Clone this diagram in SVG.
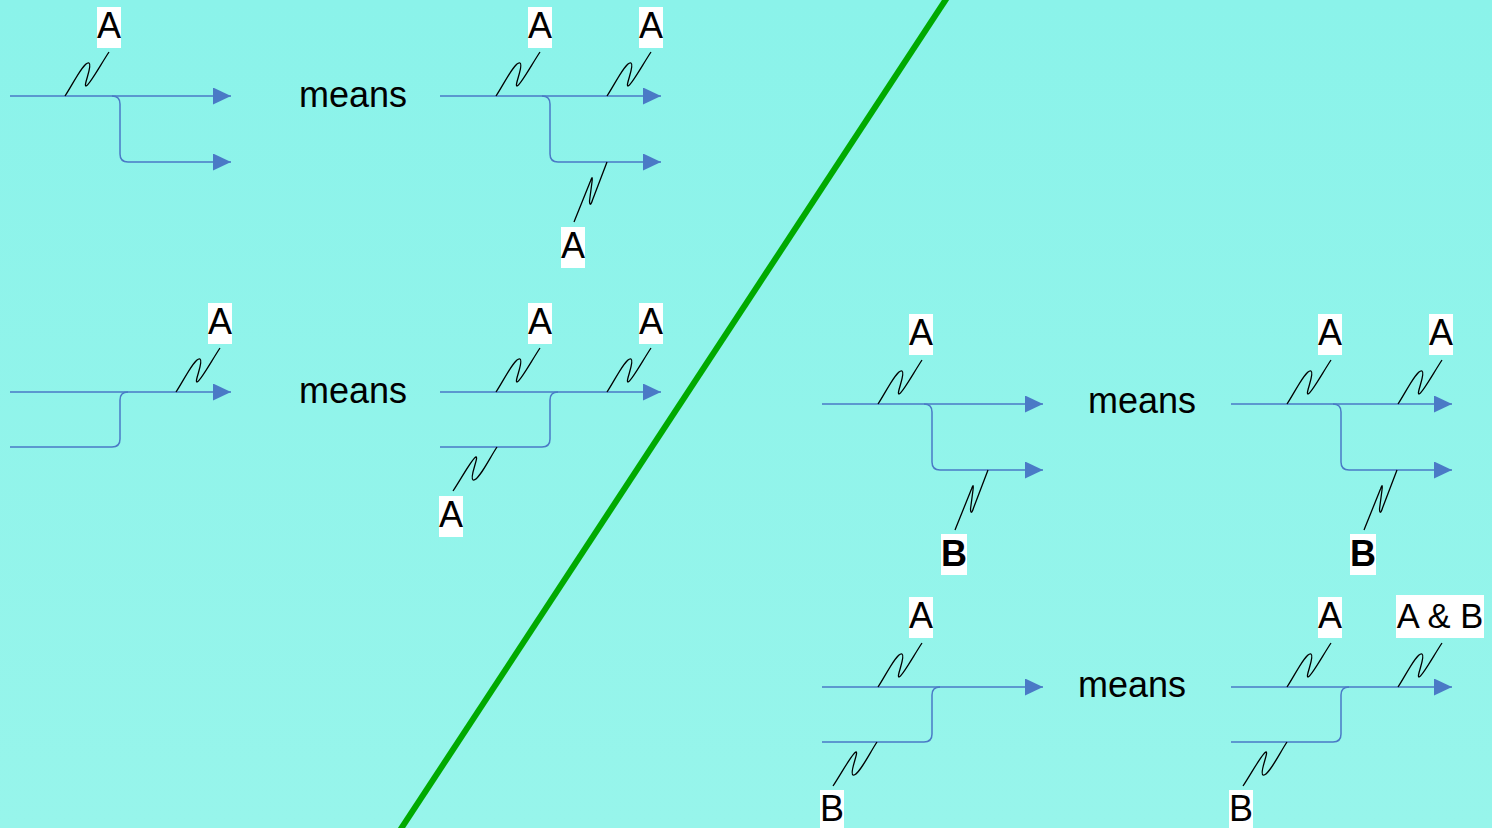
<svg xmlns="http://www.w3.org/2000/svg" width="1492" height="828" viewBox="0 0 1492 828">
<defs>
<linearGradient id="bg" x1="0" y1="0" x2="0" y2="1">
<stop offset="0" stop-color="#8BF3EA"/>
<stop offset="1" stop-color="#97F5EB"/>
</linearGradient>
<marker id="arr" markerUnits="userSpaceOnUse" markerWidth="18" markerHeight="17" refX="18" refY="8.5" orient="auto">
<path d="M0,0 L18,8.5 L0,17 z" fill="#4A7AC6"/>
</marker>
<path id="sqU" d="M0,0 C8,-12 19,-35 24,-33 C28,-31 18,-10 21,-10 C24,-10 36,-32 44,-44"/>
<path id="sqB" d="M0,0 L-14.5,38 Q-17,46 -17.5,39 L-15,20 Q-14,12 -16.5,19 L-33,60"/>
</defs>
<style>
.ln{fill:none;stroke:#4A7AC6;stroke-width:1.5}
.ar{marker-end:url(#arr)}
.sq{fill:none;stroke:#000;stroke-width:1.3;stroke-linejoin:round}
.bx{fill:#fff}
.t{font-family:"Liberation Sans",Arial,sans-serif;font-size:36px;fill:#000;text-anchor:middle}
.b{font-weight:bold}
</style>
<rect x="0" y="0" width="1492" height="828" fill="url(#bg)"/>
<line x1="948.8" y1="-5" x2="398.2" y2="833" stroke="#00AA00" stroke-width="6"/>

<g id="connectors">
<path class="ln ar" d="M10,96 L231,96"/>
<path class="ln ar" d="M112,96 Q120,96 120,104 L120,154 Q120,162 128,162 L231,162"/>
<path class="ln ar" d="M440,96 L661,96"/>
<path class="ln ar" d="M542,96 Q550,96 550,104 L550,154 Q550,162 558,162 L661,162"/>
<path class="ln ar" d="M10,392 L231,392"/>
<path class="ln" d="M10,447 L112,447 Q120,447 120,439 L120,400 Q120,392 128,392"/>
<path class="ln ar" d="M440,392 L661,392"/>
<path class="ln" d="M440,447 L542,447 Q550,447 550,439 L550,400 Q550,392 558,392"/>
<path class="ln ar" d="M822,404 L1043,404"/>
<path class="ln ar" d="M924,404 Q932,404 932,412 L932,462 Q932,470 940,470 L1043,470"/>
<path class="ln ar" d="M1231,404 L1452,404"/>
<path class="ln ar" d="M1333,404 Q1341,404 1341,412 L1341,462 Q1341,470 1349,470 L1452,470"/>
<path class="ln ar" d="M822,687 L1043,687"/>
<path class="ln" d="M822,742 L924,742 Q932,742 932,734 L932,695 Q932,687 940,687"/>
<path class="ln ar" d="M1231,687 L1452,687"/>
<path class="ln" d="M1231,742 L1333,742 Q1341,742 1341,734 L1341,695 Q1341,687 1349,687"/>
</g>

<g id="d1">
<use href="#sqU" class="sq" x="65" y="96"/>
<rect class="bx" x="97" y="7" width="24" height="41"/>
<text class="t" x="109" y="38">A</text>
</g>
<g id="means1"><text class="t" x="353" y="107">means</text></g>

<g id="d2">
<use href="#sqU" class="sq" x="496" y="96"/>
<rect class="bx" x="528" y="7" width="24" height="41"/>
<text class="t" x="540" y="38">A</text>
<use href="#sqU" class="sq" x="607" y="96"/>
<rect class="bx" x="639" y="7" width="24" height="41"/>
<text class="t" x="651" y="38">A</text>
<use href="#sqB" class="sq" x="607" y="162"/>
<rect class="bx" x="561" y="227" width="24" height="41"/>
<text class="t" x="573" y="258">A</text>
</g>

<g id="d3">
<use href="#sqU" class="sq" x="176" y="392"/>
<rect class="bx" x="208" y="303" width="24" height="41"/>
<text class="t" x="220" y="334">A</text>
</g>
<g id="means2"><text class="t" x="353" y="403">means</text></g>

<g id="d4">
<use href="#sqU" class="sq" x="496" y="392"/>
<rect class="bx" x="528" y="303" width="24" height="41"/>
<text class="t" x="540" y="334">A</text>
<use href="#sqU" class="sq" x="607" y="392"/>
<rect class="bx" x="639" y="303" width="24" height="41"/>
<text class="t" x="651" y="334">A</text>
<use href="#sqU" class="sq" transform="translate(497,447) rotate(180)"/>
<rect class="bx" x="439" y="496" width="24" height="41"/>
<text class="t" x="451" y="527">A</text>
</g>

<g id="d5">
<use href="#sqU" class="sq" x="878" y="404"/>
<rect class="bx" x="909" y="314" width="24" height="41"/>
<text class="t" x="921" y="345">A</text>
<use href="#sqB" class="sq" x="988" y="470"/>
<rect class="bx" x="941" y="534" width="26" height="41"/>
<text class="t b" x="954" y="566">B</text>
</g>
<g id="means3"><text class="t" x="1142" y="413">means</text></g>

<g id="d6">
<use href="#sqU" class="sq" x="1287" y="404"/>
<rect class="bx" x="1318" y="314" width="24" height="41"/>
<text class="t" x="1330" y="345">A</text>
<use href="#sqU" class="sq" x="1398" y="404"/>
<rect class="bx" x="1429" y="314" width="24" height="41"/>
<text class="t" x="1441" y="345">A</text>
<use href="#sqB" class="sq" x="1397" y="470"/>
<rect class="bx" x="1350" y="534" width="26" height="41"/>
<text class="t b" x="1363" y="566">B</text>
</g>

<g id="d7">
<use href="#sqU" class="sq" x="878" y="687"/>
<rect class="bx" x="909" y="597" width="24" height="41"/>
<text class="t" x="921" y="628">A</text>
<use href="#sqU" class="sq" transform="translate(877,742) rotate(180)"/>
<rect class="bx" x="820" y="790" width="24" height="41"/>
<text class="t" x="832" y="821">B</text>
</g>
<g id="means4"><text class="t" x="1132" y="697">means</text></g>

<g id="d8">
<use href="#sqU" class="sq" x="1287" y="687"/>
<rect class="bx" x="1318" y="597" width="24" height="41"/>
<text class="t" x="1330" y="628">A</text>
<use href="#sqU" class="sq" x="1398" y="687"/>
<rect class="bx" x="1396" y="595" width="88" height="43"/>
<text class="t" x="1440" y="628" style="font-size:34.5px">A &amp; B</text>
<use href="#sqU" class="sq" transform="translate(1287,742) rotate(180)"/>
<rect class="bx" x="1229" y="790" width="24" height="41"/>
<text class="t" x="1241" y="821">B</text>
</g>
</svg>
